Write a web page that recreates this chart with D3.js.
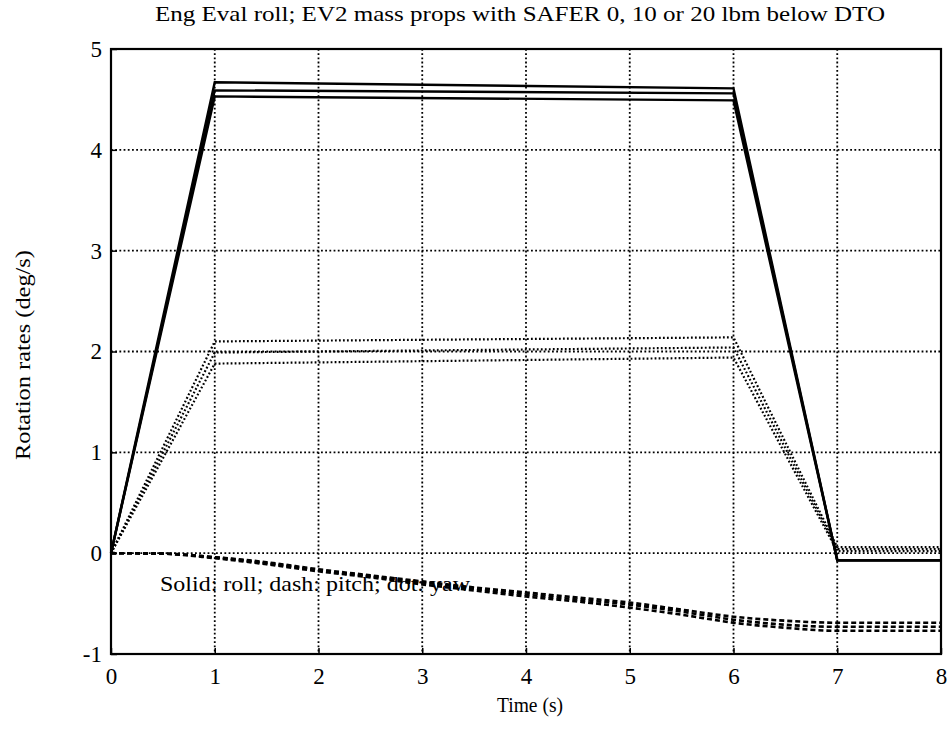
<!DOCTYPE html>
<html>
<head>
<meta charset="utf-8">
<script src="https://cdn.jsdelivr.net/npm/d3@7"></script>
<style>
  html, body { margin: 0; padding: 0; background: #fff; }
  svg text { font-family: "Liberation Serif", "DejaVu Serif", serif; fill: #000; }
</style>
</head>
<body>
<svg id="chart" width="949" height="741"></svg>
<script>
// Time samples (s)
const rampTimes = [0, 1, 6, 7, 8];
const pitchTimes = [0, 0.5, 1, 1.5, 2, 2.5, 3, 3.5, 4, 4.5, 5, 5.5, 6, 6.5, 7, 8];

// Roll rate (deg/s), SAFER 0 / 10 / 20 lbm below DTO
const roll0 = [0, 4.67, 4.61, -0.07, -0.07];
const roll10 = [0, 4.59, 4.56, -0.07, -0.07];
const roll20 = [0, 4.53, 4.49, -0.07, -0.07];

// Yaw rate (deg/s)
const yaw0 = [0, 2.10, 2.14, 0.06, 0.06];
const yaw10 = [0, 1.99, 2.04, 0.04, 0.04];
const yaw20 = [0, 1.88, 1.94, 0.02, 0.02];

// Pitch rate (deg/s)
const pitch0 = [0, -0.005, -0.04, -0.09, -0.16, -0.22, -0.28, -0.34, -0.39, -0.44, -0.49, -0.56, -0.63, -0.67, -0.69, -0.69];
const pitch10 = [0, -0.005, -0.04, -0.10, -0.17, -0.23, -0.29, -0.35, -0.41, -0.46, -0.51, -0.58, -0.66, -0.71, -0.73, -0.73];
const pitch20 = [0, -0.005, -0.05, -0.11, -0.18, -0.24, -0.31, -0.37, -0.43, -0.48, -0.54, -0.61, -0.69, -0.74, -0.77, -0.77];

const xTicks = [0, 1, 2, 3, 4, 5, 6, 7, 8];
const yTicks = [-1, 0, 1, 2, 3, 4, 5];

const titleText = "Eng Eval roll; EV2 mass props with SAFER 0, 10 or 20 lbm below DTO";
const xLabel = "Time (s)";
const yLabel = "Rotation rates (deg/s)";
const noteText = "Solid: roll; dash: pitch; dot: yaw";

const svg = d3.select("#chart");
const plot = { left: 111, right: 941, top: 49, bottom: 654 };

const x = d3.scaleLinear().domain([0, 8]).range([plot.left, plot.right]);
const y = d3.scaleLinear().domain([-1, 5]).range([plot.bottom, plot.top]);

// Dotted grid
const grid = svg.append("g").attr("stroke", "#000").attr("stroke-width", 1.8)
  .attr("stroke-dasharray", "1.8,2.4");
grid.selectAll("line.gx").data(xTicks.slice(1, -1)).join("line")
  .attr("x1", d => x(d)).attr("x2", d => x(d))
  .attr("y1", plot.top).attr("y2", plot.bottom);
grid.selectAll("line.gy").data(yTicks.slice(1, -1)).join("line")
  .attr("y1", d => y(d)).attr("y2", d => y(d))
  .attr("x1", plot.left).attr("x2", plot.right);

// Axes with inward ticks
const xAxis = svg.append("g").attr("transform", `translate(0,${plot.bottom})`)
  .call(d3.axisBottom(x).tickValues(xTicks).tickSizeInner(-6).tickSizeOuter(0).tickPadding(14).tickFormat(d => String(d)));
const yAxis = svg.append("g").attr("transform", `translate(${plot.left},0)`)
  .call(d3.axisLeft(y).tickValues(yTicks).tickSizeInner(-6).tickSizeOuter(0).tickPadding(9).tickFormat(d => String(d)));
[xAxis, yAxis].forEach(a => {
  a.select(".domain").remove();
  a.selectAll("line").attr("stroke", "#000").attr("stroke-width", 1.5);
  a.selectAll("text").attr("font-size", 23).attr("font-family", "Liberation Serif, serif");
});

// Frame
svg.append("rect")
  .attr("x", plot.left).attr("y", plot.top)
  .attr("width", plot.right - plot.left).attr("height", plot.bottom - plot.top)
  .attr("fill", "none").attr("stroke", "#000").attr("stroke-width", 2.2);

const lineOf = (times, curve) => d3.line()
  .x((d, i) => x(times[i])).y(d => y(d)).curve(curve);

const series = [
  { vals: pitch0, times: pitchTimes, curve: d3.curveMonotoneX, width: 2.6, dash: "5,3" },
  { vals: pitch10, times: pitchTimes, curve: d3.curveMonotoneX, width: 2.6, dash: "5,3" },
  { vals: pitch20, times: pitchTimes, curve: d3.curveMonotoneX, width: 2.6, dash: "5,3" },
  { vals: yaw0, times: rampTimes, curve: d3.curveLinear, width: 2.2, dash: "1.8,2.2" },
  { vals: yaw10, times: rampTimes, curve: d3.curveLinear, width: 2.2, dash: "1.8,2.2" },
  { vals: yaw20, times: rampTimes, curve: d3.curveLinear, width: 2.2, dash: "1.8,2.2" },
  { vals: roll0, times: rampTimes, curve: d3.curveLinear, width: 2.4, dash: null },
  { vals: roll10, times: rampTimes, curve: d3.curveLinear, width: 2.4, dash: null },
  { vals: roll20, times: rampTimes, curve: d3.curveLinear, width: 2.4, dash: null }
];

svg.append("g").selectAll("path").data(series).join("path")
  .attr("d", s => lineOf(s.times, s.curve)(s.vals))
  .attr("fill", "none").attr("stroke", "#000")
  .attr("stroke-width", s => s.width)
  .attr("stroke-dasharray", s => s.dash)
  .attr("stroke-linejoin", "miter");

// Line-style key inside the axes
svg.append("text").attr("x", 160).attr("y", 591)
  .attr("font-size", 21).attr("textLength", 310).attr("lengthAdjust", "spacingAndGlyphs")
  .text(noteText);

// Title and axis labels
svg.append("text").attr("x", 155).attr("y", 21)
  .attr("font-size", 22).attr("textLength", 730).attr("lengthAdjust", "spacingAndGlyphs")
  .text(titleText);
svg.append("text").attr("x", 497).attr("y", 712)
  .attr("font-size", 22).attr("textLength", 66).attr("lengthAdjust", "spacingAndGlyphs")
  .text(xLabel);
svg.append("text")
  .attr("transform", `translate(30,460) rotate(-90)`)
  .attr("font-size", 21).attr("textLength", 210).attr("lengthAdjust", "spacingAndGlyphs")
  .text(yLabel);
</script>
</body>
</html>
